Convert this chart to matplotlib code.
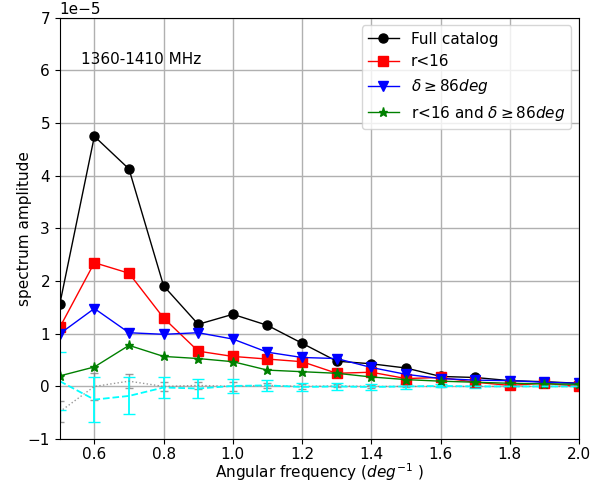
import numpy as np
import matplotlib
matplotlib.use("Agg")
import matplotlib.pyplot as plt

freq = [0.5, 0.6, 0.7, 0.8, 0.9, 1.0, 1.1, 1.2, 1.3, 1.4, 1.5, 1.6, 1.7, 1.8, 1.9, 2.0]
full = [1.56, 4.75, 4.13, 1.91, 1.18, 1.37, 1.16, 0.82, 0.48, 0.43, 0.35, 0.19, 0.17, 0.11, 0.09, 0.06]
r16 = [1.12, 2.35, 2.15, 1.30, 0.67, 0.57, 0.52, 0.47, 0.25, 0.27, 0.15, 0.17, 0.08, 0.02, 0.06, 0.00]
dec86 = [1.00, 1.48, 1.02, 0.99, 1.02, 0.90, 0.65, 0.55, 0.53, 0.36, 0.23, 0.15, 0.12, 0.11, 0.08, 0.06]
both = [0.20, 0.37, 0.78, 0.57, 0.53, 0.47, 0.31, 0.28, 0.25, 0.18, 0.13, 0.10, 0.08, 0.06, 0.05, 0.04]
noise1 = [0.10, -0.25, -0.18, -0.02, -0.04, 0.01, 0.02, -0.01, 0.00, -0.01, 0.00, 0.01, 0.00, 0.00, 0.00, 0.00]
noise1_err = [0.55, 0.43, 0.35, 0.20, 0.18, 0.13, 0.10, 0.08, 0.06, 0.05, 0.04, 0.03, 0.03, 0.02, 0.02, 0.01]
noise2 = [-0.48, 0.00, 0.10, 0.00, 0.02, 0.00, 0.02, 0.00, 0.01, 0.00, 0.00, 0.00, 0.00, 0.00, 0.00, 0.00]
noise2_err = [0.20, 0.25, 0.13, 0.09, 0.07, 0.08, 0.05, 0.04, 0.03, 0.03, 0.02, 0.02, 0.02, 0.01, 0.01, 0.01]

scale = 1e-5
f = lambda a: np.array(a) * scale

fig = plt.figure(figsize=(6.16, 4.82), dpi=100)
ax = fig.add_axes([0.097, 0.089, 0.843, 0.874])

ax.errorbar(freq, f(noise2), yerr=f(noise2_err), color='grey', ls=':', lw=1, capsize=3, alpha=0.8)
ax.errorbar(freq, f(noise1), yerr=f(noise1_err), color='cyan', ls='--', lw=1.3, capsize=4)

ax.plot(freq, f(full), 'k-o', lw=1, ms=6.5, label='Full catalog')
ax.plot(freq, f(r16), 'r-s', lw=1, ms=6.5, label='r<16')
ax.plot(freq, f(dec86), 'b-v', lw=1, ms=6.5, label=r'$\delta \geq 86deg$')
ax.plot(freq, f(both), 'g-*', lw=1, ms=6.5, label=r'r<16 and $\delta \geq 86deg$')

ax.set_xlim(0.5, 2.0)
ax.set_ylim(-1e-5, 7e-5)
ax.grid(True, color='#b0b0b0', lw=1)
ax.set_xlabel(r'Angular frequency ($deg^{-1}$ )', fontsize=11)
ax.set_ylabel('spectrum amplitude', fontsize=11)
ax.xaxis.set_label_coords(0.5, -0.0535)
ax.yaxis.set_label_coords(-0.054, 0.5)
ax.tick_params(labelsize=11)
ax.tick_params(axis='x', pad=2.2)
ax.yaxis.get_offset_text().set_fontsize(11)
ax.text(0.04, 0.89, '1360-1410 MHz', transform=ax.transAxes, fontsize=11)
ax.legend(loc='upper right', fontsize=11)

fig.savefig('out.png', dpi=100)
